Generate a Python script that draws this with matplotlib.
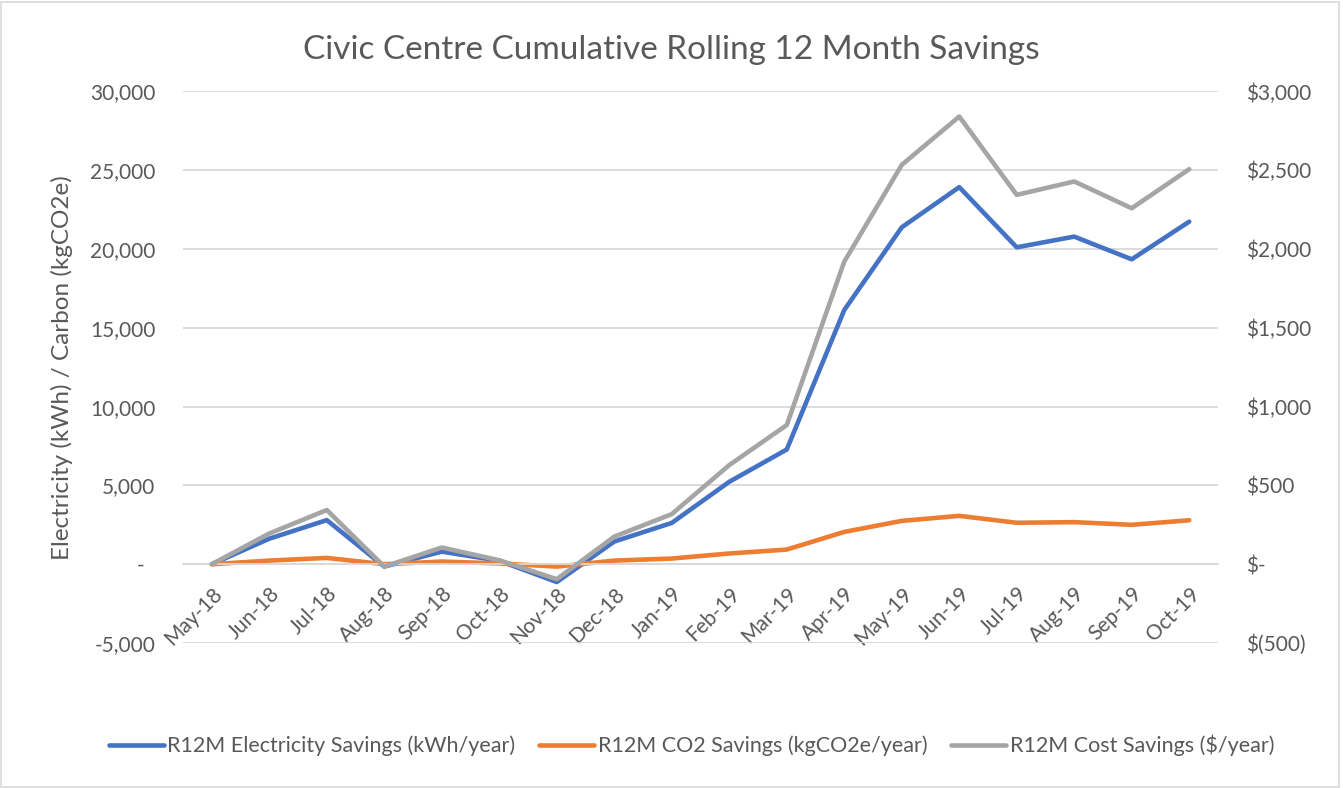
import matplotlib
matplotlib.use("Agg")
import matplotlib.pyplot as plt
from matplotlib.ticker import FuncFormatter, MultipleLocator
from matplotlib.patches import Rectangle

months = ["May-18", "Jun-18", "Jul-18", "Aug-18", "Sep-18", "Oct-18", "Nov-18",
          "Dec-18", "Jan-19", "Feb-19", "Mar-19", "Apr-19", "May-19", "Jun-19",
          "Jul-19", "Aug-19", "Sep-19", "Oct-19"]
electricity_kwh = [0, 1620, 2800, -150, 800, 220, -1130, 1440, 2620, 5230, 7280,
                   16130, 21380, 23930, 20110, 20790, 19350, 21740]
co2_kg = [0, 230, 400, 0, 170, 50, -150, 230, 360, 680, 930,
          2050, 2750, 3070, 2630, 2670, 2500, 2790]
cost_usd = [0, 195, 344, -15, 106, 25, -95, 175, 318, 629, 883,
            1920, 2534, 2841, 2344, 2429, 2259, 2507]

FONT = ["Lato", "DejaVu Sans"]
plt.rcParams["font.family"] = FONT
TXT = "#595959"
GRID = "#D9D9D9"

fig = plt.figure(figsize=(13.43, 7.88), dpi=100)
fig.patches.append(Rectangle((0.001, 0.001), 0.996, 0.997, transform=fig.transFigure,
                             fill=False, edgecolor=GRID, linewidth=1.2))

ax = fig.add_axes([0.1363, 0.184, 0.7706, 0.6999])
ax2 = ax.twinx()

x = list(range(len(months)))
l1, = ax.plot(x, electricity_kwh, color="#4472C4", lw=3.3, solid_capstyle="round",
              solid_joinstyle="round", label="R12M Electricity Savings (kWh/year)")
l2, = ax.plot(x, co2_kg, color="#ED7D31", lw=3.3, solid_capstyle="round",
              solid_joinstyle="round", label="R12M CO2 Savings (kgCO2e/year)")
l3, = ax2.plot(x, cost_usd, color="#A5A5A5", lw=3.3, solid_capstyle="round",
               solid_joinstyle="round", label="R12M Cost Savings ($/year)")

ax.set_xlim(-0.5, len(months) - 0.5)
ax.set_ylim(-5000, 30000)
ax2.set_ylim(-500, 3000)
ax.yaxis.set_major_locator(MultipleLocator(5000))
ax2.yaxis.set_major_locator(MultipleLocator(500))

def left_fmt(v, pos):
    if abs(v) < 1e-9:
        return "-  "
    return f"{v:,.0f}"

def right_fmt(v, pos):
    if abs(v) < 1e-9:
        return "$-"
    if v < 0:
        return f"$({-v:,.0f})"
    return f"${v:,.0f}"

ax.yaxis.set_major_formatter(FuncFormatter(left_fmt))
ax2.yaxis.set_major_formatter(FuncFormatter(right_fmt))

ax.grid(axis="y", color=GRID, lw=1.3)
ax.set_axisbelow(True)
for s in ["top", "left", "right"]:
    ax.spines[s].set_visible(False)
    ax2.spines[s].set_visible(False)
ax2.spines["bottom"].set_visible(False)
ax.spines["bottom"].set_position(("data", 0))
ax.spines["bottom"].set_color(GRID)
ax.spines["bottom"].set_linewidth(1.3)

ax.set_xticks(x)
ax.set_xticklabels(months, rotation=45, ha="right", rotation_mode="anchor",
                   fontsize=15, color=TXT)
ax.tick_params(axis="x", length=0, pad=14)
ax.tick_params(axis="y", length=0, pad=20, labelsize=15, labelcolor=TXT)
ax2.tick_params(axis="y", length=0, pad=20, labelsize=15, labelcolor=TXT)

ax.set_ylabel("Electricity (kWh) / Carbon (kgCO2e)", fontsize=17.5, color=TXT, labelpad=12)

fig.text(0.5, 0.936, "Civic Centre Cumulative Rolling 12 Month Savings",
         ha="center", va="center", fontsize=24, color=TXT)

fig.legend(handles=[l1, l2, l3], loc="center", bbox_to_anchor=(0.515, 0.054),
           ncol=3, frameon=False, fontsize=15.5, handlelength=2.55, handletextpad=0.18,
           columnspacing=1.1, labelcolor=TXT)

fig.savefig("out.png", dpi=100)
